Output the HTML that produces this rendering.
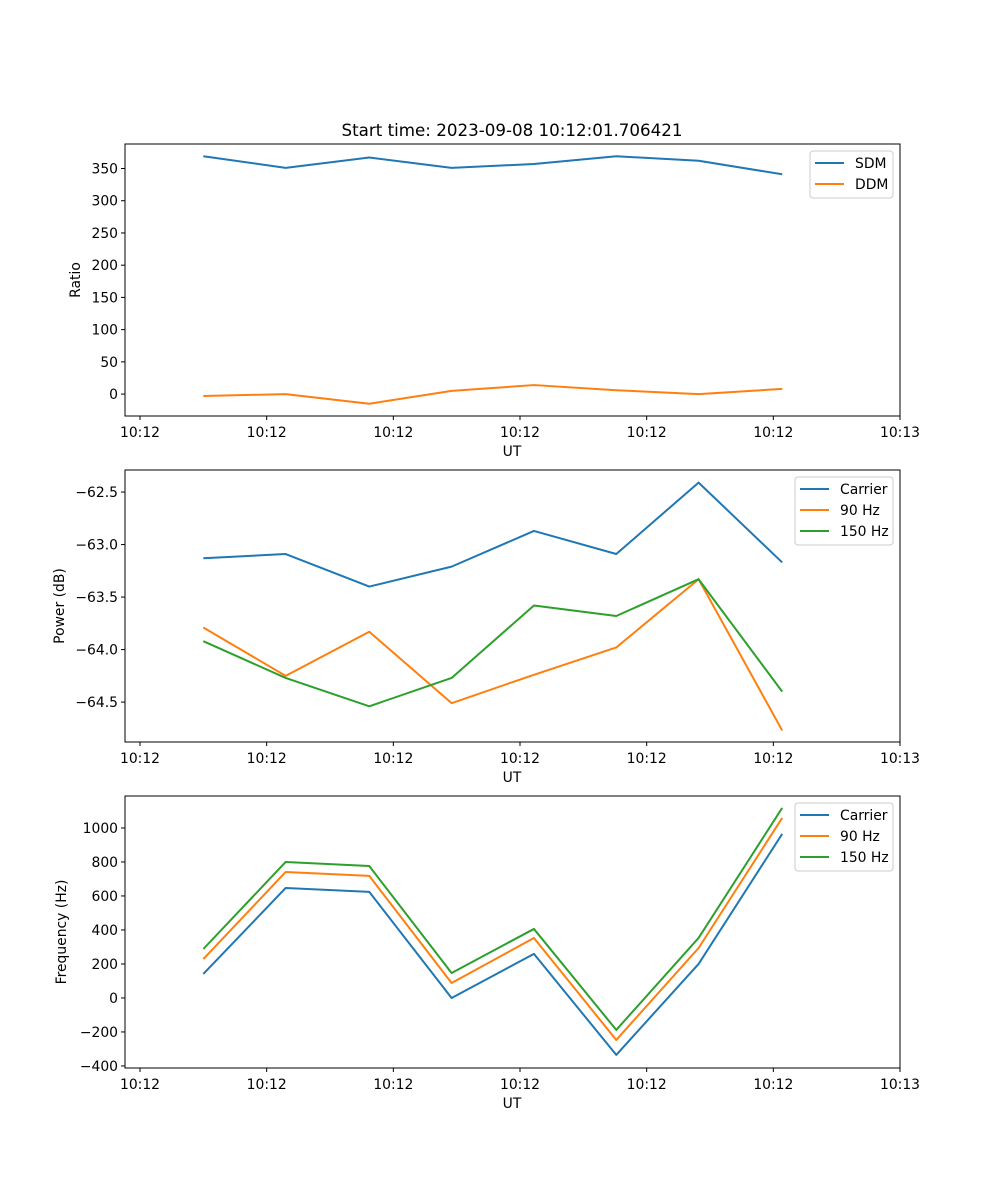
<!DOCTYPE html>
<html><head><meta charset="utf-8"><style>
body{margin:0;background:#fff;}
svg{display:block;font-family:"DejaVu Sans","Liberation Sans",sans-serif;}
</style></head><body>
<svg id="fig" width="1000" height="1200" viewBox="0 0 1000 1200">
<rect width="1000" height="1200" fill="#fff"/>
<text x="512" y="136" font-size="16.7" text-anchor="middle">Start time: 2023-09-08 10:12:01.706421</text>
</svg>
<script>
const times = [0.50,1.15,1.81,2.46,3.11,3.76,4.41,5.07];
const xTickLabels = ["10:12","10:12","10:12","10:12","10:12","10:12","10:13"];
const sdm = [369,351,367,351,357,369,362,341];
const ddm = [-3,0,-15,5,14,6,0,8];
const powCarrier = [-63.13,-63.09,-63.40,-63.21,-62.87,-63.09,-62.41,-63.17];
const pow90 = [-63.79,-64.25,-63.83,-64.51,-64.24,-63.98,-63.33,-64.77];
const pow150 = [-63.92,-64.27,-64.54,-64.27,-63.58,-63.68,-63.33,-64.40];
const freqCarrier = [141,647,624,0,259,-335,200,965];
const freq90 = [229,741,718,88,353,-247,294,1059];
const freq150 = [288,800,776,147,406,-188,353,1118];
const ratioTicks = [0,50,100,150,200,250,300,350];
const powTicks = [-64.5,-64.0,-63.5,-63.0,-62.5];
const freqTicks = [-400,-200,0,200,400,600,800,1000];

const NS="http://www.w3.org/2000/svg";
const svg=document.getElementById('fig');
function mk(tag,attrs,parent){const e=document.createElementNS(NS,tag);for(const k in attrs)e.setAttribute(k,attrs[k]);(parent||svg).appendChild(e);return e;}
const L=125,R=900;
const xs=t=>140+t*(760/6);
const C={blue:'#1f77b4',orange:'#ff7f0e',green:'#2ca02c'};
const FS=13.9;

function panel(name,top,bottom,ymin,ymax,ticks,fmt,ylabel,series,legend){
  const g=mk('g',{});
  
  
  const ys=v=>bottom-(v-ymin)/(ymax-ymin)*(bottom-top);
  series.forEach(s=>{
    const p=mk('polyline',{points:times.map((t,i)=>xs(t)+','+ys(s.v[i])).join(' '),fill:'none',stroke:s.c,'stroke-width':2,'stroke-linejoin':'round'},g);
    
    
  });
  const fr=mk('rect',{x:L,y:top,width:R-L,height:bottom-top,fill:'none',stroke:'#000','stroke-width':1},g);
  
  
  ticks.forEach(v=>{
    const y=ys(v);
    mk('line',{x1:L-4,x2:L,y1:y,y2:y,stroke:'#000'},g);
    const t=mk('text',{x:L-7,y:y+5,'font-size':FS,'text-anchor':'end'},g);
    t.textContent=fmt(v);
    
    
  });
  xTickLabels.forEach((lab,i)=>{
    const x=xs(i);
    mk('line',{x1:x,x2:x,y1:bottom,y2:bottom+4,stroke:'#000'},g);
    const t=mk('text',{x:x,y:bottom+21,'font-size':FS,'text-anchor':'middle'},g);
    t.textContent=lab;
    
    
  });
  const xl=mk('text',{x:512,y:bottom+40,'font-size':FS,'text-anchor':'middle'},g);
  xl.textContent='UT';
  
  
  const yc=(top+bottom)/2;
  const yx=legend.ylx;
  const yl=mk('text',{x:yx,y:yc,'font-size':FS,'text-anchor':'middle',transform:'rotate(-90 '+yx+' '+yc+')'},g);
  yl.textContent=ylabel;
  
  
  const lg=mk('g',{},g);
  
  
  mk('rect',{x:legend.x,y:top+7,width:893-legend.x,height:series.length*21+5,rx:3,fill:'#fff','fill-opacity':0.8,stroke:'#ccc'},lg);
  series.forEach((s,i)=>{
    const y=top+19+i*21;
    mk('line',{x1:legend.x+5,x2:legend.x+34,y1:y,y2:y,stroke:s.c,'stroke-width':2},lg);
    const t=mk('text',{x:legend.x+45,y:y+5,'font-size':FS},lg);
    t.textContent=s.label;
    
    
  });
}
panel('ratio',144,416,-34,388,ratioTicks,v=>String(v),'Ratio',
  [{id:'sdm',label:'SDM',v:sdm,c:C.blue},{id:'ddm',label:'DDM',v:ddm,c:C.orange}],{x:810,ylx:80});
panel('power',470,742,-64.88,-62.29,powTicks,v=>v.toFixed(1).replace('-','\u2212'),'Power (dB)',
  [{id:'carrier',label:'Carrier',v:powCarrier,c:C.blue},{id:'90hz',label:'90 Hz',v:pow90,c:C.orange},{id:'150hz',label:'150 Hz',v:pow150,c:C.green}],{x:795,ylx:64});
panel('frequency',796,1068,-412,1188,freqTicks,v=>String(v).replace('-','\u2212'),'Frequency (Hz)',
  [{id:'carrier',label:'Carrier',v:freqCarrier,c:C.blue},{id:'90hz',label:'90 Hz',v:freq90,c:C.orange},{id:'150hz',label:'150 Hz',v:freq150,c:C.green}],{x:795,ylx:66});
</script>
</body></html>
